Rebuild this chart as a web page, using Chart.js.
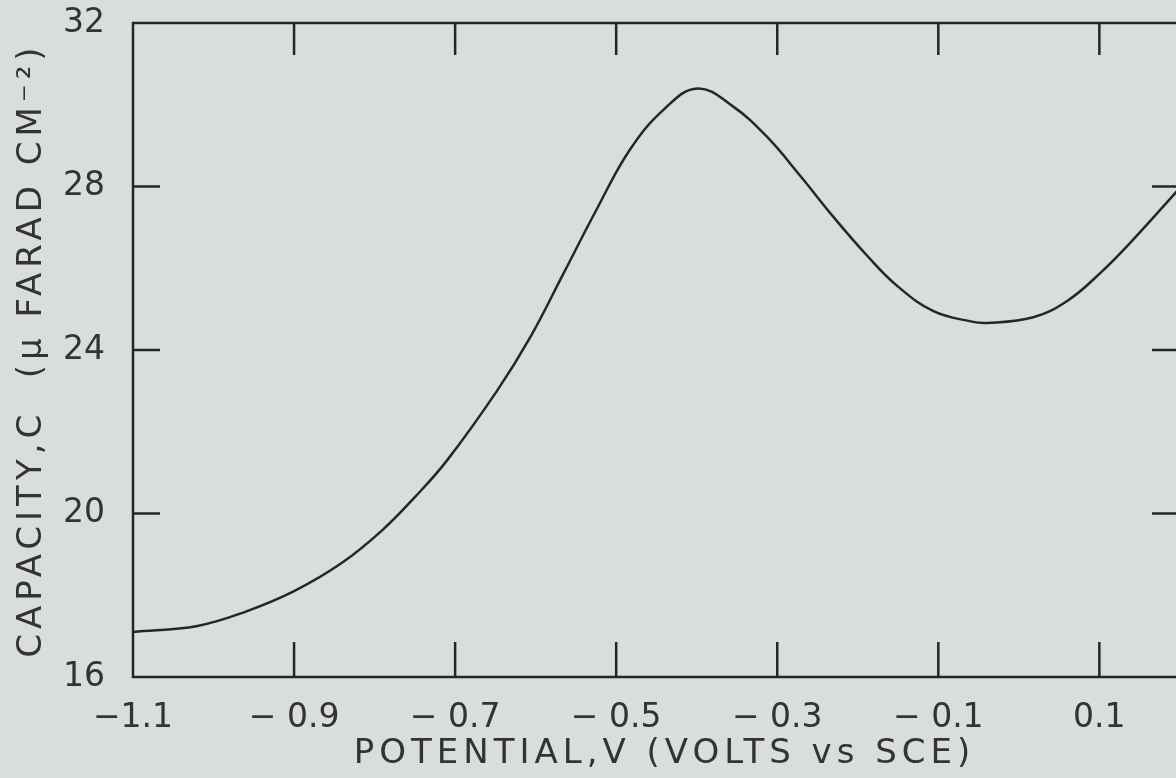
<!DOCTYPE html>
<html>
<head>
<meta charset="utf-8">
<script src="https://cdn.jsdelivr.net/npm/chart.js@4.4.1/dist/chart.umd.min.js"></script>
<style>
    html, body { margin: 0; padding: 0; overflow: hidden; background: #dadedb; }
    #wrap { position: absolute; left: 0; top: 0; width: 1200px; height: 778px; }
</style>
</head>
<body>
<div id="wrap"><canvas id="capChart" width="1200" height="778"></canvas></div>
<script>
// potential (V vs SCE) and capacity (µF cm^-2)
const potential = [-1.1, -1.02, -0.96, -0.9, -0.84, -0.79, -0.75, -0.71, -0.648, -0.607, -0.566, -0.524, -0.483, -0.44, -0.399, -0.355, -0.312, -0.271, -0.23, -0.188, -0.15, -0.106, -0.06, -0.039, 0.018, 0.06, 0.101, 0.142, 0.197];
const capacity = [17.1, 17.25, 17.6, 18.1, 18.8, 19.6, 20.4, 21.3, 23.0, 24.3, 25.85, 27.45, 28.9, 29.9, 30.4, 29.96, 29.2, 28.25, 27.25, 26.3, 25.55, 24.95, 24.7, 24.66, 24.8, 25.2, 25.88, 26.7, 27.9];

const xTickValues = [-1.1, -0.9, -0.7, -0.5, -0.3, -0.1, 0.1];
const xTickLabels = ['\u22121.1', '\u2212 0.9', '\u2212 0.7', '\u2212 0.5', '\u2212 0.3', '\u2212 0.1', '0.1'];
const yTickValues = [16, 20, 24, 28, 32];
const innerYTicks = [20, 24, 28];
const innerXTicks = [-0.9, -0.7, -0.5, -0.3, -0.1, 0.1];

const ink = '#262626';
const textInk = '#333333';
const fontFamily = "'DejaVu Sans', sans-serif";

// frame plus inward tick marks, placed through the chart's scales
const framePlugin = {
    id: 'frame',
    beforeDraw(chart) {
        // the lettering on the original is wide, so space the axis titles out
        Object.values(chart.scales).forEach(scale => {
            if (scale._spaced) return;
            const orig = scale.drawTitle;
            scale.drawTitle = function () {
                this.ctx.save();
                this.ctx.letterSpacing = '5px';
                orig.apply(this, arguments);
                this.ctx.restore();
            };
            scale._spaced = true;
        });
    },
    afterDatasetsDraw(chart) {
        const { ctx, chartArea: a, scales } = chart;
        ctx.save();
        ctx.strokeStyle = ink;
        ctx.lineWidth = 2.5;
        ctx.strokeRect(a.left, a.top, a.right - a.left, a.bottom - a.top);
        ctx.beginPath();
        innerXTicks.forEach(v => {
            const px = scales.x.getPixelForValue(v);
            ctx.moveTo(px, a.bottom); ctx.lineTo(px, a.bottom - 35);
            ctx.moveTo(px, a.top); ctx.lineTo(px, a.top + 32);
        });
        innerYTicks.forEach(v => {
            const py = scales.y.getPixelForValue(v);
            ctx.moveTo(a.left, py); ctx.lineTo(a.left + 27, py);
            ctx.moveTo(a.right, py); ctx.lineTo(a.right - 44, py);
        });
        ctx.stroke();
        ctx.restore();
    }
};

const ctx = document.getElementById('capChart').getContext('2d');
new Chart(ctx, {
    type: 'line',
    data: {
        datasets: [{
            data: potential.map((p, i) => ({ x: p, y: capacity[i] })),
            borderColor: ink,
            borderWidth: 2.5,
            pointRadius: 0,
            tension: 0.4,
            fill: false
        }]
    },
    options: {
        responsive: false,
        animation: false,
        layout: { padding: { top: 23, right: 4, left: 0, bottom: 0 } },
        plugins: { legend: { display: false }, tooltip: { enabled: false } },
        scales: {
            x: {
                type: 'linear',
                min: -1.1,
                max: 0.22,
                grid: { display: false },
                border: { display: false },
                afterBuildTicks: scale => { scale.ticks = xTickValues.map(v => ({ value: v })); },
                afterFit: scale => { scale.height = 101; },
                ticks: {
                    color: textInk,
                    padding: 14,
                    maxRotation: 0,
                    autoSkip: false,
                    font: { family: fontFamily, size: 33 },
                    callback: (v, i) => xTickLabels[i]
                },
                title: {
                    display: true,
                    text: 'POTENTIAL,V (VOLTS vs SCE)',
                    color: textInk,
                    padding: { top: 0, bottom: 3 },
                    font: { family: fontFamily, size: 34 }
                }
            },
            y: {
                min: 16,
                max: 32,
                grid: { display: false },
                border: { display: false },
                afterBuildTicks: scale => { scale.ticks = yTickValues.map(v => ({ value: v })); },
                afterFit: scale => {
                    scale.width = 133;
                    scale.paddingTop = 0;
                    scale.paddingBottom = 0;
                },
                ticks: {
                    color: textInk,
                    padding: 20,
                    font: { family: fontFamily, size: 33 }
                },
                title: {
                    display: true,
                    text: 'CAPACITY,C  (\u03bc FARAD CM\u207b\u00b2)',
                    color: textInk,
                    padding: { top: 12, bottom: 0 },
                    font: { family: fontFamily, size: 34 }
                }
            }
        }
    },
    plugins: [framePlugin]
});
</script>
</body>
</html>
